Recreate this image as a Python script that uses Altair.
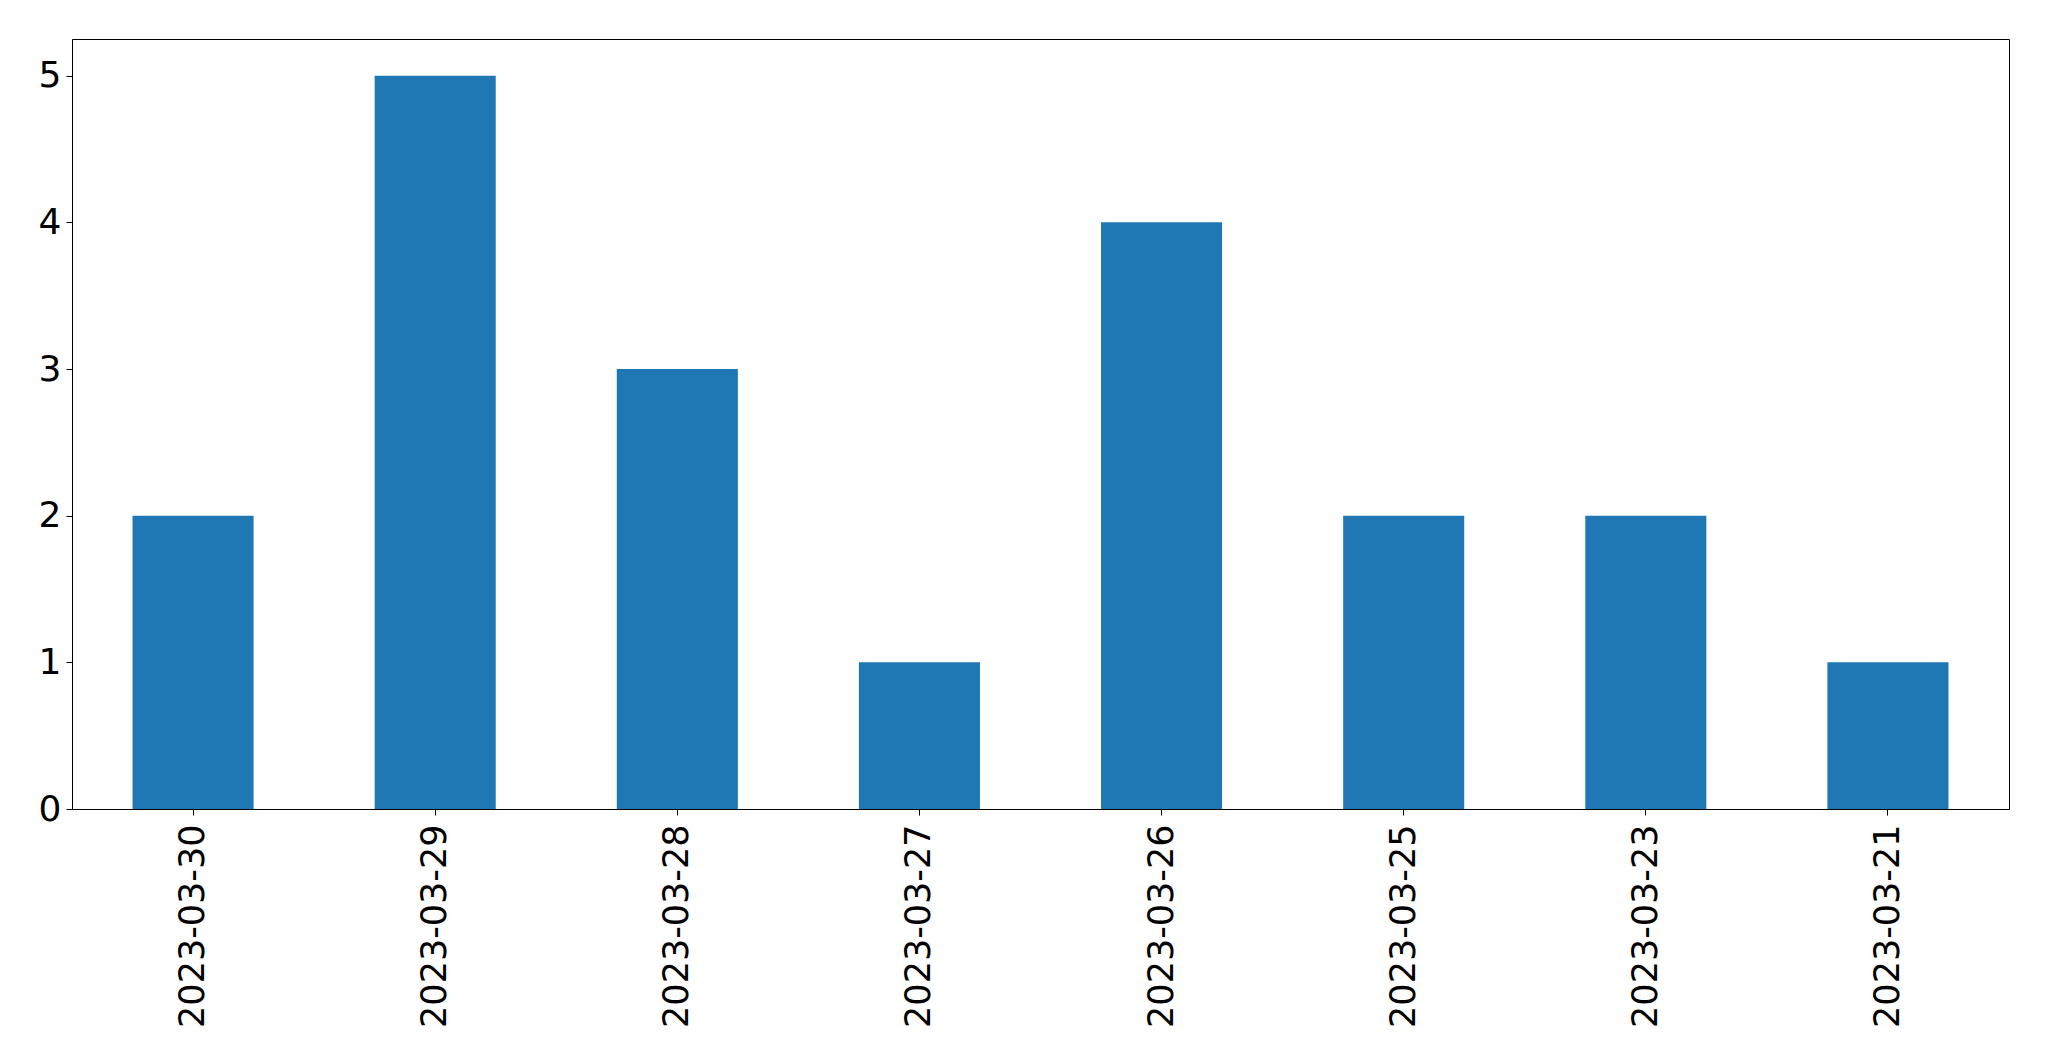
import altair as alt
import pandas as pd

dates = ["2023-03-30", "2023-03-29", "2023-03-28", "2023-03-27",
         "2023-03-26", "2023-03-25", "2023-03-23", "2023-03-21"]
counts = [2, 5, 3, 1, 4, 2, 2, 1]

df = pd.DataFrame({"date": dates, "count": counts})

chart = alt.Chart(df).mark_bar(color="#1f77b4").encode(
    x=alt.X("date:N", sort=dates,
            scale=alt.Scale(paddingInner=0.5, paddingOuter=0.25),
            axis=alt.Axis(title=None, labelAngle=270, labelAlign="right",
                          labelBaseline="middle", labelFontSize=35,
                          labelFont="DejaVu Sans", labelColor="black",
                          labelLimit=1000,
                          tickSize=6, tickColor="black", tickWidth=1,
                          labelPadding=9, domainColor="black", domainWidth=1)),
    y=alt.Y("count:Q",
            scale=alt.Scale(domain=[0, 5.25], nice=False),
            axis=alt.Axis(title=None, values=[0, 1, 2, 3, 4, 5], format="d",
                          grid=False, labelFontSize=36,
                          labelFont="DejaVu Sans", labelColor="black",
                          tickSize=6, tickColor="black", tickWidth=1,
                          labelPadding=5, domainColor="black", domainWidth=1)),
).properties(
    width=1937, height=770,
    autosize=alt.AutoSizeParams(type="none"),
    padding={"left": 64, "top": 31, "right": 30, "bottom": 230},
).configure_view(stroke="black", strokeWidth=1)

chart.save("out.html", embed_options={"renderer": "svg", "actions": False})
